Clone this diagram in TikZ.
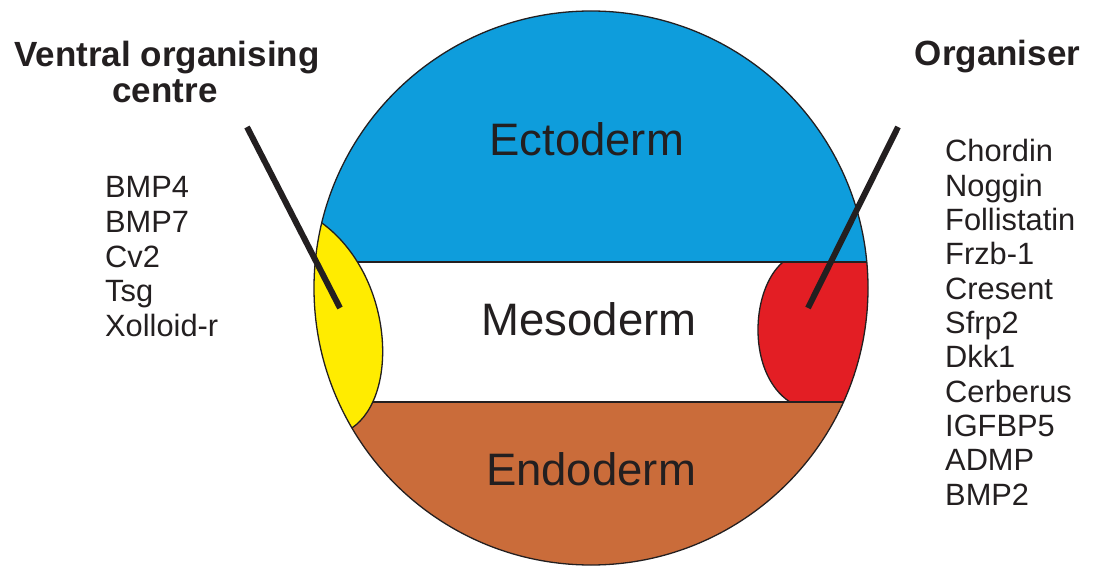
\documentclass[tikz,border=0pt]{standalone}
\usepackage{fontspec}
\setmainfont{Liberation Sans}
\usetikzlibrary{calc}
\definecolor{ecto}{RGB}{14,157,220}
\definecolor{meso}{RGB}{255,255,255}
\definecolor{endo}{RGB}{202,108,58}
\definecolor{vent}{RGB}{255,236,0}
\definecolor{orgn}{RGB}{227,30,36}
\definecolor{ink}{RGB}{35,31,32}
\tikzset{
  outline/.style={draw=ink, line width=1.3pt},
  pointer/.style={draw=ink, line width=6pt},
  title/.style={font=\fontsize{35}{36}\selectfont\bfseries, text=ink, inner sep=0pt, anchor=base},
  germ/.style={font=\fontsize{45.5}{48}\selectfont, text=ink, inner sep=0pt, anchor=base},
  gene/.style={font=\fontsize{30.8}{33}\selectfont, text=ink, inner sep=0pt, anchor=base west},
}
\begin{document}
\begin{tikzpicture}[x=1pt,y=1pt]
\useasboundingbox (0,0) rectangle (1095,566);
\coordinate (C) at (591,278);
\begin{scope}
  \clip (C) circle[radius=277pt];
  \fill[ecto] (300,304) rectangle (880,570);
  \fill[meso] (300,164) rectangle (880,304);
  \fill[endo] (300,-5) rectangle (880,164);
  % organiser (red)
  \fill[orgn] (783,304) .. controls (750,276) and (747,192) .. (790,164) -- (880,164) -- (880,304) -- cycle;
  \draw[outline] (783,304) .. controls (750,276) and (747,192) .. (790,164);
  % stripe boundaries
  \draw[outline] (300,304) -- (880,304);
  \draw[outline] (300,164) -- (880,164);
  % ventral organising centre (yellow)
  \coordinate (ya) at ($(C)+(166.4:277pt)$);
  \coordinate (yb) at ($(C)+(210.35:277pt)$);
  \fill[vent] (ya) .. controls (393,291) and (400,171) .. (yb) -- (300,138) -- (300,343) -- cycle;
  \draw[outline] (ya) .. controls (393,291) and (400,171) .. (yb);
\end{scope}
\draw[outline] (C) circle[radius=277pt];
% germ layer labels
\node[germ] (ecto) at (586.7,410.3) {Ectoderm};
\node[germ] (meso) at (589,230.3) {Mesoderm};
\node[germ] (endo) at (591,80.3) {Endoderm};
% titles
\node[title] (vt1) at (167,499.3) {Ventral organising};
\node[title] (vt2) at (165,463.3) {centre};
\node[title] (org) at (997.5,500) {Organiser};
% pointers
\coordinate (lp1) at (247,439);
\coordinate (lp2) at (340,258);
\coordinate (rp1) at (898,439);
\coordinate (rp2) at (808,258);
\draw[pointer] (lp1) -- (lp2);
\draw[pointer] (rp1) -- (rp2);
% gene lists
\foreach \g [count=\i from 0] in {BMP4,BMP7,Cv2,Tsg,Xolloid-r}
  \node[gene] (l\i) at (105,368-34.6*\i) {\g};
\foreach \g [count=\i from 0] in {Chordin,Noggin,Follistatin,Frzb-1,Cresent,Sfrp2,Dkk1,Cerberus,IGFBP5,ADMP,BMP2}
  \node[gene] (r\i) at (945,404.3-34.33*\i) {\g};
\end{tikzpicture}
\end{document}
